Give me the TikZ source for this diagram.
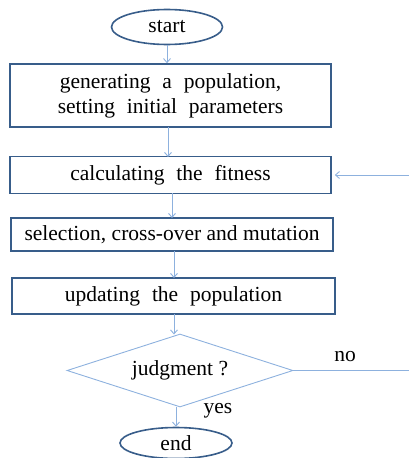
\documentclass[tikz,border=0pt]{standalone}
\usepackage{fontspec}
\setmainfont{Liberation Serif}
\usetikzlibrary{shapes.geometric, positioning, arrows.meta}
\definecolor{boxblue}{RGB}{56,93,138}
\definecolor{linkblue}{RGB}{141,177,222}
\tikzset{
    >={Straight Barb[length=4pt,width=7pt]}, % Open arrowheads
    every node/.style={font=\fontsize{21.5}{25}\selectfont}, % Serif text
    stepbox/.style={draw=boxblue, line width=1.6pt, rectangle, inner sep=0pt, align=center}, % Process boxes
    terminal/.style={draw=boxblue, line width=1.6pt, ellipse, inner sep=0pt}, % Start and end
    decision/.style={draw=linkblue, line width=0.9pt, diamond, aspect=3.1, inner sep=0pt}, % Test
    link/.style={->, draw=linkblue, line width=0.9pt}, % Connectors
    widespace/.style={execute at begin node={\spaceskip=0.55em plus 0.1em\relax}}, % Wide word gaps
}

\begin{document}
\begin{tikzpicture}[x=1pt, y=-1pt]
    \useasboundingbox (0,0) rectangle (409,458);

    \node[terminal, minimum width=111pt, minimum height=35pt] (start) at (167,27) {start};
    \node[stepbox, widespace, minimum width=321pt, minimum height=63pt] (init) at (170.5,95.5)
        {generating a population,\\ setting initial parameters};
    \node[stepbox, widespace, minimum width=321pt, minimum height=37pt] (fit) at (170.5,175) {calculating the fitness};
    \node[stepbox, minimum width=322pt, minimum height=33pt] (sel) at (172,234.5) {selection, cross-over and mutation};
    \node[stepbox, widespace, minimum width=323pt, minimum height=36pt] (upd) at (173.5,296) {updating the population};
    \node[decision, minimum width=226pt, minimum height=73pt] (judge) at (180,370.5) {judgment ?};
    \node[terminal, minimum width=112pt, minimum height=31pt] (finish) at (176,443) {end};

    \coordinate (r1) at (409,370.5);
    \coordinate (r2) at (409,175);

    \node (no) at (345,357) {no};
    \node (yes) at (218,411) {yes};

    \draw[link] (start.south) -- (start.south |- init.north);
    \draw[link] (168,127) -- (168,157);
    \draw[link] (172,193) -- (172,218);
    \draw[link] (174,251) -- (174,278);
    \draw[link] (174,314) -- (174,334.5);
    \draw[link] (176,407) -- (finish.north -| 176,0);
    \draw[draw=linkblue, line width=0.9pt] (judge.east) -- (r1);
    \draw[link, shorten >=3pt] (r2) -- (fit.east);
\end{tikzpicture}
\end{document}
